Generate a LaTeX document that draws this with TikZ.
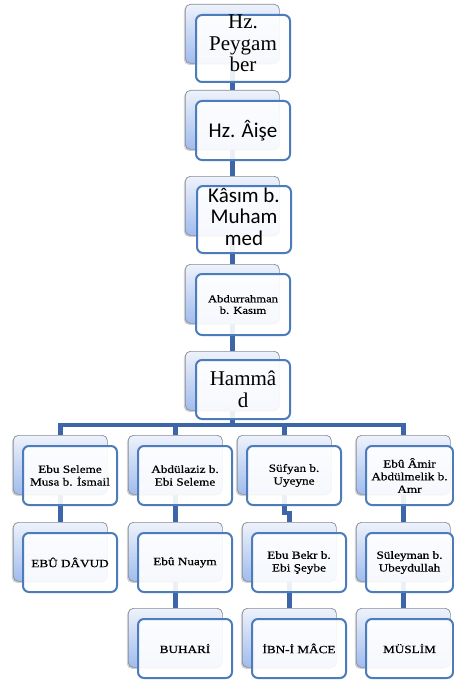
\documentclass[tikz,border=0pt]{standalone}
\usepackage{fontspec}
\setmainfont{Liberation Serif}
\newfontfamily\calfont{Carlito}
\newfontfamily\smallfont[FakeStretch=1.2,FakeBold=0.6]{Liberation Serif}
\usetikzlibrary{shadows,calc}
\definecolor{connc}{RGB}{60,102,168}
\definecolor{frontline}{RGB}{76,124,188}
\definecolor{backline}{RGB}{135,140,150}
\definecolor{bTop}{RGB}{238,242,251}
\definecolor{bBot}{RGB}{160,188,238}
\pgfdeclarelayer{bg}
\pgfsetlayers{bg,main}
\begin{document}
\begin{tikzpicture}[x=1pt,y=-1pt,
  backbox/.style={draw=backline, line width=0.7pt, rounded corners=5pt,
    top color=bTop, bottom color=bBot, minimum width=94pt, minimum height=59pt,
    anchor=north west, inner sep=0pt,
    drop shadow={shadow xshift=-1.5pt, shadow yshift=-1.5pt, opacity=0.3, fill=black!60}},
  frontbox/.style={draw=frontline, line width=2pt, rounded corners=6pt,
    fill=white, fill opacity=0.9, text opacity=1, minimum width=94pt,
    minimum height=59pt, anchor=north west, inner sep=0pt, align=center},
  conn/.style={draw=connc, line width=4.3pt},
  bigserif/.style={font=\fontsize{21}{21.5}\selectfont},
  bigsans/.style={font=\calfont\fontsize{21}{21.5}\selectfont},
  smalltext/.style={font=\smallfont\fontsize{11}{12.7}\selectfont},
  tinytext/.style={font=\smallfont\fontsize{10.5}{11.5}\selectfont},
  boxtext/.style={align=center, inner sep=0pt}]
\begin{pgfonlayer}{bg}
\fill[white] (0,0) rectangle (453,682);
\end{pgfonlayer}
\useasboundingbox (0,0) rectangle (453,682);

% top chain
\node[backbox] (p1) at (185,4) {};
\node[frontbox, minimum height=67pt] (q1) at (195,14) {};
\node[boxtext, bigserif] (q1t) at ($(q1.center)+(0,-5)$) {Hz.\\Peygam\\ber};
\node[backbox] (p2) at (185,90) {};
\node[frontbox, bigsans] (q2) at (195,100) {Hz. Âişe};
\node[backbox] (p3) at (185,176) {};
\node[frontbox, minimum height=67pt] (q3) at (196,185) {};
\node[boxtext, bigsans] (q3t) at ($(q3.center)+(0,-3)$) {Kâsım b.\\Muham\\med};
\node[backbox] (p4) at (185,264) {};
\node[frontbox, tinytext, minimum height=61pt] (q4) at (195,273) {Abdurrahman\\b. Kasım};
\node[backbox] (p5) at (185,351) {};
\node[frontbox, bigserif] (q5) at (195,359) {Hammâ\\d};

% row 1
\node[backbox] (k11) at (13,435) {};
\node[frontbox, smalltext] (t11) at (22,445) {Ebu Seleme\\Musa b. İsmail};
\node[backbox] (k12) at (128,435) {};
\node[frontbox, smalltext] (t12) at (137,445) {Abdülaziz b.\\Ebi Seleme};
\node[backbox] (k13) at (237,435) {};
\node[frontbox, smalltext] (t13) at (246,445) {Süfyan b.\\Uyeyne};
\node[backbox] (k14) at (356,435) {};
\node[frontbox, smalltext, minimum width=87pt] (t14) at (365,445) {Ebû Âmir\\Abdülmelik b.\\Amr};

% row 2
\node[backbox] (k21) at (13,522) {};
\node[frontbox, smalltext] (t21) at (22,532) {EBÛ DÂVUD};
\node[backbox] (k22) at (128,522) {};
\node[frontbox, smalltext] (t22) at (137,532) {Ebû Nuaym};
\node[backbox] (k23) at (242,522) {};
\node[frontbox, smalltext] (t23) at (251,532) {Ebu Bekr b.\\Ebi Şeybe};
\node[backbox] (k24) at (356,522) {};
\node[frontbox, smalltext, minimum width=87pt] (t24) at (365,532) {Süleyman b.\\Ubeydullah};

% row 3
\node[backbox] (k32) at (128,608) {};
\node[frontbox, smalltext] (t32) at (137,618) {BUHARİ};
\node[backbox] (k33) at (242,608) {};
\node[frontbox, smalltext] (t33) at (251,618) {İBN-İ MÂCE};
\node[backbox] (k34) at (356,608) {};
\node[frontbox, smalltext, minimum width=87pt] (t34) at (365,618) {MÜSLİM};

\coordinate (bar) at (0,425);
\begin{pgfonlayer}{bg}
\draw[conn] (p1.south) -- (p2.north);
\draw[conn] (p2.south) -- (p3.north);
\draw[conn] (p3.south) -- (p4.north);
\draw[conn] (p4.south) -- (p5.north);
\draw[conn] (p5.south) -- (p5.south |- bar) -| (k11.north);
\draw[conn] (p5.south) -- (p5.south |- bar) -| (k12.north);
\draw[conn] (p5.south) -- (p5.south |- bar) -| (k13.north);
\draw[conn] (p5.south) -- (p5.south |- bar) -| (k14.north);
\draw[conn] (k11.south) -- (k21.north);
\draw[conn] (k12.south) -- (k22.north);
\draw[conn] (k22.south) -- (k32.north);
\draw[conn] (k13.south) |- ($(k23.north)+(0,-9)$) -| (k23.north);
\draw[conn] (k23.south) -- (k33.north);
\draw[conn] (k14.south) -- (k24.north);
\draw[conn] (k24.south) -- (k34.north);
\end{pgfonlayer}
\end{tikzpicture}
\end{document}
